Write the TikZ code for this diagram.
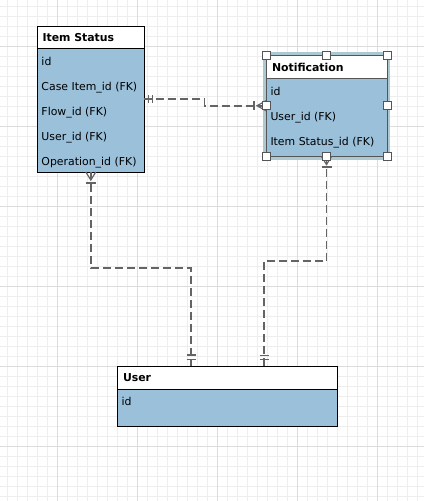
\documentclass[tikz,border=0pt]{standalone}
\usepackage{fontspec}
\setmainfont{DejaVu Sans}
\definecolor{bodyblue}{RGB}{155,192,218}
\definecolor{linegray}{RGB}{100,100,100}
\definecolor{gridminor}{RGB}{238,238,238}
\definecolor{gridmajor}{RGB}{220,220,220}
\definecolor{selring}{RGB}{172,200,208}
\definecolor{handlegray}{RGB}{85,85,85}
\begin{document}
\begin{tikzpicture}[x=1pt,y=-1pt,
  every node/.style={inner sep=0pt, outer sep=0pt},
  entity/.style={draw=black, line width=1pt, fill=bodyblue, anchor=north west},
  header/.style={draw=black, line width=1pt, fill=white, anchor=north west},
  title/.style={font=\fontsize{10.9}{13}\selectfont\bfseries, anchor=base west},
  field/.style={font=\fontsize{10.9}{13}\selectfont, anchor=base west},
  rel/.style={draw=linegray, line width=1.5pt, dash pattern=on 8pt off 4pt},
  relmark/.style={draw=linegray, line width=1.2pt},
  handle/.style={draw=handlegray, fill=white, line width=1pt, minimum size=8pt, anchor=center},
]
% canvas and grid
\useasboundingbox (0,0) rectangle (424,501);
\fill[white] (0,0) rectangle (424,501);
\foreach \gx in {7.5,17.5,...,424}{\draw[gridminor, line width=1pt] (\gx,0) -- (\gx,501);}
\foreach \gy in {6,16,...,501}{\draw[gridminor, line width=1pt] (0,\gy) -- (424,\gy);}
\foreach \gx in {57.5,137.5,...,424}{\draw[gridmajor, line width=1pt] (\gx,0) -- (\gx,501);}
\foreach \gy in {46,126,...,501}{\draw[gridmajor, line width=1pt] (0,\gy) -- (424,\gy);}

% Item Status entity
\node[entity, minimum width=107pt, minimum height=146pt] (item) at (37.3,26) {};
\node[header, minimum width=107pt, minimum height=22.5pt] (itemh) at (item.north west) {};
\node[title] (itemt) at (42.5,41.7) {Item Status};
\node[field] (item1) at (41.5,65) {id};
\node[field] (item2) at (41.5,90) {Case Item\_id (FK)};
\node[field] (item3) at (41.5,115) {Flow\_id (FK)};
\node[field] (item4) at (41.5,140) {User\_id (FK)};
\node[field] (item5) at (41.5,165) {Operation\_id (FK)};

% Notification entity (selected)
\draw[selring, line width=6pt] (266,55) rectangle (387,156.5);
\node[entity, draw=handlegray, minimum width=121pt, minimum height=101.5pt] (notif) at (266,55) {};
\node[header, draw=handlegray, minimum width=121pt, minimum height=23pt] (notifh) at (notif.north west) {};
\node[title] (notift) at (272,71.7) {Notification};
\node[field] (notif1) at (270.5,95) {id};
\node[field] (notif2) at (270.5,120) {User\_id (FK)};
\node[field] (notif3) at (270.5,145) {Item Status\_id (FK)};

% User entity
\node[entity, minimum width=220.5pt, minimum height=60pt] (user) at (117.3,366) {};
\node[header, minimum width=220.5pt, minimum height=23pt] (userh) at (user.north west) {};
\node[title] (usert) at (123,381.7) {User};
\node[field] (user1) at (121.5,405) {id};

\coordinate (jog) at (204.5,0);
\coordinate (uL) at ([xshift=-36.5pt]user.north);
\coordinate (uR) at ([xshift=36.5pt]user.north);

% Item Status -- Notification
\draw[rel] (item.east) -- (item.east -| jog) -- (jog |- notif.west) -- (notif.west);
\draw[relmark] ([shift={(4.5pt,4pt)}]item.east) -- ++(0,8);
\draw[relmark] ([shift={(8.5pt,4pt)}]item.east) -- ++(0,8);
\draw[relmark] ([shift={(-12pt,4.5pt)}]notif.west) -- ++(0,9);
\draw[relmark] ([yshift=5pt]notif.west) -- ([xshift=-9pt]notif.west) -- ([yshift=-5pt]notif.west);

% Item Status -- User
\draw[rel] (item.south) -- ++(0,96) -| (uL);
\draw[relmark] ([xshift=-5pt]item.south) -- ([yshift=-8pt]item.south) -- ([xshift=5pt]item.south);
\draw[relmark] ([shift={(-5pt,-11pt)}]item.south) -- ++(10,0);
\draw[relmark] ([shift={(-4.5pt,11pt)}]uL) -- ++(9,0);
\draw[relmark] ([shift={(-4.5pt,6.5pt)}]uL) -- ++(9,0);

% Notification -- User
\draw[rel] (notif.south) -- ++(0,104.5) -| (uR);
\draw[relmark] ([xshift=-5pt]notif.south) -- ([yshift=-8pt]notif.south) -- ([xshift=5pt]notif.south);
\draw[relmark] ([shift={(-5pt,-10.5pt)}]notif.south) -- ++(10,0);
\draw[relmark] ([shift={(-4.5pt,10.5pt)}]uR) -- ++(9,0);
\draw[relmark] ([shift={(-4.5pt,6.5pt)}]uR) -- ++(9,0);

% selection handles
\foreach \a/\n in {north west/hnw,north/hn,north east/hne,west/hw,east/he,south west/hsw,south/hs,south east/hse}
  \node[handle] (\n) at (notif.\a) {};
\end{tikzpicture}
\end{document}
